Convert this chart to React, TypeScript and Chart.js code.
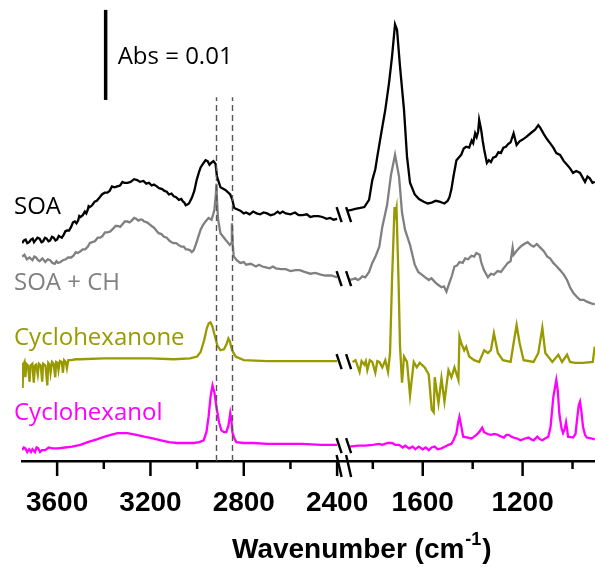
import React, { useEffect, useRef } from "react";
import { Chart, registerables } from "chart.js";

Chart.register(...registerables);

// ---- broken x axis: 3750–2400 | 1900–910 cm-1 ----
const LEFT_MAX = 3750;
const LEFT_MIN = 2400;
const RIGHT_MAX = 1900;
const RIGHT_MIN = 910;
const RIGHT_STRETCH = 1.07;
const BREAK_GAP = 46;

function toAxis(wn: number): number {
  if (wn >= LEFT_MIN) return LEFT_MAX - wn;
  return LEFT_MAX - LEFT_MIN + BREAK_GAP + (RIGHT_MAX - wn) * RIGHT_STRETCH;
}

const MAJOR_TICKS = [3600, 3200, 2800, 2400, 1600, 1200];
const TICK_LABELS = ["3600", "3200", "2800", "2400", "1600", "1200"];
const MINOR_TICKS = [3400, 3000, 2600, 1800, 1400, 1000];
const DASH_WN = [2917, 2850];

// absorbance in units of 0.001 (mAbs), traces already offset as plotted
const Y_MAX = 51.2;
const DASH_TOP = 40.4;
const SCALE_BAR_WN = 3392;
const SCALE_BAR_BASE = 40.1;
const SCALE_BAR_SIZE = 10; // 0.01 Abs

const SOA: [number, number][] = [
  [3750, 24.2], [3742, 24.5], [3735, 24.6], [3728, 24.2], [3720, 24.3], [3712, 24.6], [3705, 24.7], [3699, 24.3],
  [3693, 24.5], [3684, 24.8], [3675, 24.7], [3667, 24.3], [3660, 24.4], [3652, 24.8], [3645, 24.7], [3637, 24.4],
  [3630, 24.5], [3622, 24.9], [3615, 24.8], [3607, 24.5], [3600, 24.6], [3593, 25.0], [3587, 24.9], [3580, 24.8],
  [3572, 25.1], [3565, 25.5], [3558, 25.6], [3549, 25.6], [3540, 26.0], [3532, 26.5], [3524, 26.6], [3517, 26.4],
  [3510, 26.7], [3505, 27.2], [3500, 27.1], [3490, 27.3], [3481, 27.7], [3475, 27.5], [3470, 27.8], [3465, 28.3],
  [3460, 28.2], [3450, 28.4], [3439, 28.8], [3430, 28.9], [3420, 29.2], [3408, 29.6], [3396, 29.8], [3385, 29.8],
  [3375, 30.0], [3365, 30.5], [3354, 30.4], [3342, 30.5], [3330, 30.6], [3320, 31.0], [3312, 30.9], [3298, 30.9],
  [3285, 31.0], [3270, 31.3], [3257, 31.2], [3245, 31.0], [3230, 31.1], [3218, 30.8], [3206, 30.9], [3195, 30.6],
  [3185, 30.7], [3173, 30.5], [3163, 30.3], [3150, 30.2], [3140, 30.0], [3130, 29.9], [3121, 29.6], [3110, 29.7],
  [3100, 29.4], [3090, 29.3], [3078, 29.0], [3068, 29.1], [3060, 28.8], [3055, 28.7], [3049, 28.4], [3042, 28.5],
  [3035, 28.6], [3023, 29.2], [3012, 30.0], [3002, 31.2], [2993, 32.0], [2985, 32.6], [2975, 33.0], [2964, 33.4],
  [2955, 33.3], [2947, 32.9], [2940, 33.1], [2930, 33.3], [2921, 33.0], [2915, 31.6], [2900, 30.4], [2879, 30.1],
  [2858, 29.6], [2849, 29.0], [2841, 28.1], [2815, 27.8], [2800, 27.5], [2790, 27.6], [2775, 27.4], [2760, 27.7],
  [2745, 27.5], [2730, 27.4], [2715, 27.6], [2700, 27.5], [2685, 27.3], [2670, 27.4], [2655, 27.7], [2645, 27.5],
  [2633, 27.7], [2620, 27.5], [2600, 27.4], [2580, 27.6], [2565, 27.3], [2548, 27.3], [2530, 27.4], [2515, 27.1],
  [2500, 27.2], [2480, 27.2], [2463, 27.1], [2445, 26.9], [2430, 27.0], [2415, 26.8], [2400, 26.9],
  [1900, 27.8], [1885, 27.9], [1870, 28.0], [1850, 28.1], [1834, 28.2], [1815, 29.0], [1802, 31.2], [1790, 32.4],
  [1782, 33.8], [1762, 37.1], [1750, 39.0], [1735, 42.0], [1723, 44.9], [1711, 48.5], [1703, 47.9], [1691, 43.8],
  [1675, 39.0], [1663, 33.8], [1651, 30.9], [1632, 29.6], [1615, 29.1], [1596, 28.8], [1580, 28.6], [1564, 28.7],
  [1548, 28.9], [1533, 28.8], [1513, 28.6], [1500, 28.9], [1493, 29.3], [1485, 30.2], [1477, 31.6], [1465, 33.4],
  [1446, 34.0], [1436, 34.7], [1426, 34.9], [1414, 34.8], [1404, 35.6], [1398, 35.3], [1390, 36.4], [1384, 36.0],
  [1378, 36.6], [1374, 37.9], [1366, 36.8], [1360, 35.6], [1354, 34.6], [1343, 33.1], [1335, 33.4], [1327, 33.2],
  [1318, 33.7], [1307, 33.8], [1297, 34.3], [1287, 34.2], [1277, 34.8], [1267, 34.9], [1258, 35.2], [1248, 35.4],
  [1236, 36.4], [1224, 35.1], [1212, 35.5], [1200, 35.7], [1185, 36.0], [1168, 36.4], [1150, 36.8], [1137, 37.3],
  [1129, 37.0], [1115, 36.3], [1101, 35.7], [1090, 35.3], [1077, 34.8], [1065, 34.2], [1050, 34.0], [1035, 33.3],
  [1022, 32.9], [1010, 32.5], [998, 32.0], [985, 32.2], [970, 32.0], [960, 31.5], [950, 31.0], [940, 31.6],
  [931, 31.4], [920, 30.9], [911, 31.0],
];

const SOA_CH: [number, number][] = [
  [3750, 22.7], [3740, 22.9], [3730, 22.4], [3718, 22.6], [3706, 22.3], [3698, 22.7], [3690, 22.6], [3682, 22.3],
  [3675, 22.2], [3663, 22.5], [3651, 22.1], [3640, 22.4], [3630, 22.3], [3620, 22.0], [3610, 21.9], [3603, 22.2],
  [3596, 22.0], [3585, 22.1], [3575, 22.3], [3563, 22.4], [3553, 22.6], [3540, 22.6], [3530, 22.8], [3520, 23.2],
  [3511, 23.1], [3500, 23.3], [3490, 23.5], [3480, 23.5], [3469, 23.8], [3460, 24.2], [3450, 24.3], [3438, 24.4],
  [3426, 24.8], [3415, 24.8], [3405, 25.0], [3395, 25.4], [3384, 25.4], [3372, 25.5], [3360, 25.8], [3350, 26.1],
  [3341, 26.1], [3330, 26.0], [3320, 26.3], [3310, 26.6], [3299, 26.6], [3290, 26.5], [3280, 26.7], [3270, 27.0],
  [3261, 26.9], [3252, 26.7], [3245, 26.8], [3236, 26.8], [3227, 26.6], [3215, 26.5], [3205, 26.3], [3195, 26.1],
  [3184, 25.9], [3175, 25.6], [3165, 25.3], [3153, 25.2], [3142, 24.9], [3130, 24.8], [3120, 24.5], [3110, 24.3],
  [3100, 24.2], [3090, 24.2], [3080, 24.0], [3068, 23.8], [3057, 23.8], [3048, 23.5], [3040, 23.5], [3030, 23.4],
  [3023, 23.2], [3015, 23.4], [3006, 24.0], [2995, 24.9], [2985, 25.7], [2975, 26.2], [2964, 26.6], [2951, 27.0],
  [2938, 26.8], [2930, 27.5], [2926, 27.9], [2920, 29.5], [2917, 30.8], [2914, 28.5], [2910, 26.8], [2900, 25.3],
  [2879, 24.6], [2860, 24.0], [2854, 24.2], [2851, 26.4], [2847, 24.0], [2843, 22.7], [2830, 22.3], [2815, 22.0],
  [2800, 22.1], [2790, 21.8], [2770, 21.9], [2748, 21.6], [2735, 21.8], [2720, 21.6], [2705, 21.5], [2690, 21.4],
  [2675, 21.6], [2663, 21.4], [2640, 21.3], [2620, 21.3], [2600, 21.1], [2578, 21.2], [2560, 21.2], [2540, 21.0],
  [2515, 20.8], [2493, 20.9], [2470, 20.7], [2450, 20.6], [2425, 20.6], [2400, 20.4],
  [1895, 20.1], [1880, 20.2], [1870, 20.3], [1860, 20.1], [1853, 20.2], [1842, 20.5], [1830, 20.4], [1815, 21.0],
  [1802, 22.0], [1788, 22.8], [1774, 23.8], [1762, 26.0], [1743, 28.4], [1727, 31.8], [1711, 34.0], [1695, 31.6],
  [1683, 27.6], [1671, 25.7], [1651, 24.0], [1632, 21.8], [1618, 21.0], [1604, 20.7], [1590, 20.4], [1576, 20.1],
  [1565, 20.3], [1552, 19.9], [1540, 19.6], [1525, 19.3], [1515, 19.4], [1505, 18.8], [1493, 19.8], [1483, 20.6],
  [1473, 21.6], [1463, 21.7], [1453, 22.1], [1440, 22.0], [1430, 22.5], [1418, 22.4], [1405, 22.8], [1394, 22.7],
  [1385, 23.1], [1378, 23.0], [1372, 22.9], [1366, 22.1], [1355, 21.2], [1339, 20.4], [1327, 20.8], [1315, 20.7],
  [1300, 21.1], [1287, 21.0], [1273, 21.5], [1259, 22.0], [1248, 22.2], [1240, 23.7], [1236, 22.9], [1222, 23.4],
  [1208, 23.8], [1194, 24.1], [1180, 24.3], [1168, 24.0], [1156, 23.8], [1143, 24.1], [1129, 23.7], [1115, 23.3],
  [1101, 22.7], [1090, 22.5], [1077, 22.0], [1063, 21.6], [1050, 21.2], [1035, 20.7], [1022, 20.1], [1010, 19.3],
  [998, 18.7], [985, 18.3], [970, 17.9], [955, 17.9], [943, 17.7], [925, 17.5], [911, 17.4],
];

const CYCLOHEXANONE: [number, number][] = [
  [3750, 10.9], [3748, 8.1], [3745, 10.7], [3740, 11.0], [3736, 9.3], [3732, 10.8], [3725, 10.6], [3718, 8.8],
  [3714, 10.6], [3706, 10.8], [3700, 8.7], [3695, 10.6], [3690, 10.7], [3683, 9.6], [3678, 10.8], [3670, 10.6],
  [3664, 8.8], [3660, 10.8], [3650, 10.6], [3642, 8.4], [3638, 10.9], [3632, 10.7], [3628, 9.8], [3622, 11.0],
  [3615, 10.8], [3608, 9.3], [3604, 11.0], [3598, 10.9], [3594, 10.1], [3588, 11.1], [3580, 11.0], [3575, 9.8],
  [3570, 11.2], [3563, 11.0], [3558, 10.3], [3552, 11.2], [3540, 11.2], [3520, 11.3], [3500, 11.3], [3400, 11.4],
  [3300, 11.4], [3200, 11.4], [3100, 11.3], [3030, 11.4], [3000, 11.6], [2985, 12.1], [2970, 13.4], [2958, 14.8],
  [2950, 15.3], [2943, 15.4], [2935, 15.0], [2925, 14.0], [2913, 12.8], [2900, 12.3], [2885, 12.4], [2875, 12.9],
  [2866, 13.6], [2860, 13.3], [2850, 12.3], [2835, 11.6], [2800, 11.2], [2700, 11.1], [2600, 11.1], [2500, 11.1],
  [2400, 11.1],
  [1881, 11.0], [1869, 11.2], [1853, 9.9], [1845, 11.1], [1834, 10.7], [1828, 11.1], [1822, 10.1], [1812, 11.2],
  [1802, 11.0], [1790, 9.8], [1782, 11.1], [1774, 11.0], [1762, 10.4], [1750, 11.2], [1739, 9.9], [1731, 12.0],
  [1723, 20.1], [1713, 28.2], [1709, 27.5], [1705, 28.1], [1697, 20.1], [1691, 12.7], [1683, 8.7], [1675, 11.6],
  [1663, 11.0], [1651, 7.3], [1636, 11.0], [1624, 10.4], [1612, 10.9], [1592, 10.4], [1576, 9.6], [1564, 5.7],
  [1556, 5.4], [1552, 9.3], [1537, 6.4], [1525, 9.2], [1513, 6.6], [1497, 10.1], [1485, 9.3], [1473, 10.4],
  [1457, 9.0], [1453, 13.8], [1446, 13.1], [1434, 12.3], [1426, 12.7], [1414, 11.6], [1394, 11.2], [1374, 11.0],
  [1354, 12.3], [1339, 12.0], [1327, 12.3], [1315, 14.2], [1299, 12.0], [1279, 11.2], [1248, 11.0], [1236, 13.1],
  [1224, 15.1], [1212, 13.1], [1196, 11.2], [1156, 11.0], [1137, 12.0], [1121, 14.8], [1109, 12.0], [1081, 11.0],
  [1057, 11.8], [1042, 11.0], [1022, 11.8], [1010, 11.0], [990, 10.9], [958, 10.9], [919, 11.0], [911, 12.7],
];

const CYCLOHEXANOL: [number, number][] = [
  [3750, 1.2], [3743, 1.5], [3736, 1.4], [3728, 1.0], [3720, 1.3], [3712, 1.0], [3706, 1.3], [3695, 1.0],
  [3688, 1.5], [3681, 1.4], [3673, 1.0], [3665, 1.2], [3651, 1.2], [3636, 1.5], [3621, 1.4], [3596, 1.4],
  [3566, 1.5], [3536, 1.6], [3500, 1.8], [3469, 2.1], [3430, 2.4], [3396, 2.7], [3370, 2.9], [3341, 3.1],
  [3299, 3.1], [3260, 2.9], [3227, 2.7], [3190, 2.5], [3155, 2.3], [3120, 2.1], [3087, 2.0], [3050, 2.0],
  [3015, 2.0], [2990, 2.1], [2972, 2.3], [2960, 3.2], [2951, 4.9], [2942, 7.2], [2934, 8.4], [2926, 7.6],
  [2917, 6.0], [2906, 4.3], [2896, 3.4], [2885, 3.2], [2875, 3.2], [2866, 3.9], [2858, 5.3], [2853, 4.5],
  [2849, 3.2], [2840, 2.5], [2832, 2.1], [2800, 2.0], [2760, 2.0], [2700, 1.9], [2600, 1.9], [2548, 1.9],
  [2470, 1.8], [2400, 1.8],
  [1893, 1.6], [1860, 1.7], [1830, 1.7], [1800, 1.8], [1775, 1.9], [1762, 1.8], [1740, 2.0], [1723, 2.0],
  [1710, 1.8], [1695, 1.8], [1680, 1.5], [1670, 1.7], [1655, 1.4], [1640, 1.6], [1630, 1.3], [1616, 1.6],
  [1600, 1.3], [1588, 1.5], [1576, 1.2], [1565, 1.5], [1552, 1.6], [1540, 1.3], [1525, 1.4], [1510, 1.6],
  [1497, 1.8], [1485, 1.9], [1477, 2.3], [1465, 3.1], [1458, 4.3], [1453, 4.9], [1446, 3.9], [1438, 2.7],
  [1418, 2.6], [1405, 2.5], [1394, 2.7], [1385, 2.9], [1374, 3.2], [1362, 3.7], [1354, 3.2], [1340, 3.0],
  [1327, 2.9], [1313, 3.0], [1299, 2.9], [1285, 2.7], [1275, 2.6], [1265, 2.9], [1255, 2.9], [1245, 2.7],
  [1236, 2.6], [1222, 2.5], [1208, 2.3], [1190, 2.5], [1176, 2.6], [1165, 2.4], [1156, 2.3], [1141, 2.7],
  [1130, 2.4], [1121, 2.3], [1110, 2.5], [1097, 2.7], [1088, 3.8], [1077, 7.1], [1065, 9.0], [1059, 7.8],
  [1053, 5.3], [1044, 3.6], [1038, 3.1], [1031, 3.6], [1026, 4.3], [1022, 3.6], [1018, 2.7], [998, 2.6],
  [988, 3.0], [982, 4.6], [975, 6.2], [970, 6.6], [964, 5.4], [958, 3.8], [950, 2.9], [943, 2.6], [925, 2.5],
  [911, 2.4],
];

const SERIES_NAMES = ["SOA", "SOA + CH", "Cyclohexanone", "Cyclohexanol"];
const SERIES_COLORS = ["#000000", "#808080", "#999900", "#ff00ff"];
const SERIES_DATA = [SOA, SOA_CH, CYCLOHEXANONE, CYCLOHEXANOL];
const LABEL_BASELINES = [214, 290, 345, 420];

function buildPoints(series: [number, number][]) {
  const left = series.filter((p) => p[0] >= LEFT_MIN).map((p) => ({ x: toAxis(p[0]), y: p[1] }));
  const right = series.filter((p) => p[0] < LEFT_MIN).map((p) => ({ x: toAxis(p[0]), y: p[1] }));
  const gapX = (toAxis(LEFT_MIN) + toAxis(RIGHT_MAX)) / 2;
  return [...left, { x: gapX, y: null as any }, ...right];
}

const overlayPlugin = {
  id: "overlay",
  afterDraw(chart: any) {
    const { ctx, chartArea } = chart;
    const x = chart.scales.x;
    const y = chart.scales.y;
    const yb = chartArea.bottom;
    const line = (x1: number, y1: number, x2: number, y2: number) => {
      ctx.beginPath();
      ctx.moveTo(x1, y1);
      ctx.lineTo(x2, y2);
      ctx.stroke();
    };
    ctx.save();

    // dashed reference lines
    ctx.strokeStyle = "#555555";
    ctx.lineWidth = 1.4;
    ctx.setLineDash([6, 4]);
    DASH_WN.forEach((w) => {
      const px = Math.round(x.getPixelForValue(toAxis(w))) + 0.5;
      line(px, y.getPixelForValue(0), px, y.getPixelForValue(DASH_TOP));
    });
    ctx.setLineDash([]);

    // tick marks
    ctx.strokeStyle = "#000";
    ctx.lineWidth = 2.5;
    MAJOR_TICKS.forEach((w) => {
      const px = x.getPixelForValue(toAxis(w));
      line(px, yb, px, yb + 15);
    });
    MINOR_TICKS.forEach((w) => {
      const px = x.getPixelForValue(toAxis(w));
      line(px, yb, px, yb + 8);
    });

    // break marks
    const xb1 = x.getPixelForValue(toAxis(LEFT_MIN)) + 2;
    const xb2 = xb1 + 9.5;
    ctx.lineWidth = 2.4;
    const mark = (yc: number, h1: number, h2: number) => {
      [xb1, xb2].forEach((xc) => line(xc - 2.5, yc - h1, xc + 2.5, yc + h2));
    };
    SERIES_DATA.forEach((s) => {
      const l = s.filter((p) => p[0] >= LEFT_MIN);
      const r = s.filter((p) => p[0] < LEFT_MIN);
      const v = (l[l.length - 1][1] + r[0][1]) / 2;
      mark(y.getPixelForValue(v), 7.5, 7.5);
    });
    mark(yb, 6, 16);

    // scale bar
    ctx.lineWidth = 3.5;
    const sx = x.getPixelForValue(toAxis(SCALE_BAR_WN));
    line(sx, y.getPixelForValue(SCALE_BAR_BASE), sx, y.getPixelForValue(SCALE_BAR_BASE + SCALE_BAR_SIZE));
    ctx.font = '24px "Open Sans"';
    ctx.fillStyle = "#000";
    ctx.textAlign = "left";
    ctx.textBaseline = "alphabetic";
    ctx.fillText("Abs = 0.01", sx + 12, 64);

    // series labels
    SERIES_NAMES.forEach((name, i) => {
      ctx.fillStyle = SERIES_COLORS[i];
      ctx.fillText(name, 14, LABEL_BASELINES[i]);
    });

    // axis title with superscript
    ctx.fillStyle = "#000";
    const mainFont = 'bold 28px "Liberation Sans"';
    const supFont = 'bold 18px "Liberation Sans"';
    ctx.font = mainFont;
    const t1 = "Wavenumber (cm";
    const w1 = ctx.measureText(t1).width;
    ctx.font = supFont;
    const w2 = ctx.measureText("-1").width;
    const tx = 232;
    const ty = 558;
    ctx.font = mainFont;
    ctx.fillText(t1, tx, ty);
    ctx.font = supFont;
    ctx.fillText("-1", tx + w1 + 1, ty - 13);
    ctx.font = mainFont;
    ctx.fillText(")", tx + w1 + w2 + 2, ty);

    ctx.restore();
  },
};

export default function App() {
  const canvasRef = useRef<HTMLCanvasElement | null>(null);

  useEffect(() => {
    const canvas = canvasRef.current;
    if (!canvas) return;
    const chart = new Chart(canvas, {
      type: "line",
      data: {
        datasets: SERIES_DATA.map((s, i) => ({
          label: SERIES_NAMES[i],
          data: buildPoints(s),
          borderColor: SERIES_COLORS[i],
          borderWidth: 2.3,
          pointRadius: 0,
          tension: 0,
          spanGaps: false,
          fill: false,
        })),
      },
      options: {
        animation: false,
        responsive: false,
        devicePixelRatio: 1,
        layout: { padding: { left: 16, right: 0, top: 0, bottom: 0 } },
        plugins: { legend: { display: false }, tooltip: { enabled: false } },
        scales: {
          x: {
            type: "linear",
            min: 0,
            max: toAxis(RIGHT_MIN),
            grid: { display: false, drawTicks: false },
            border: { display: true, color: "#000", width: 2.5 },
            ticks: {
              autoSkip: false,
              maxRotation: 0,
              padding: 25,
              color: "#000",
              font: { family: '"Liberation Sans", Arial, sans-serif', size: 28, weight: "bold" },
              callback: (_v: any, i: number) => TICK_LABELS[i],
            },
            afterBuildTicks: (scale: any) => {
              scale.ticks = MAJOR_TICKS.map((w) => ({ value: toAxis(w) }));
            },
            afterFit: (scale: any) => {
              scale.height = 106;
            },
          },
          y: { display: false, min: 0, max: Y_MAX },
        },
      },
      plugins: [overlayPlugin],
    } as any);
    return () => chart.destroy();
  }, []);

  return (
    <div style={{ position: "fixed", left: 0, top: 0, width: 595, height: 567, background: "#fff" }}>
      <canvas ref={canvasRef} width={595} height={567} style={{ display: "block" }} />
    </div>
  );
}
